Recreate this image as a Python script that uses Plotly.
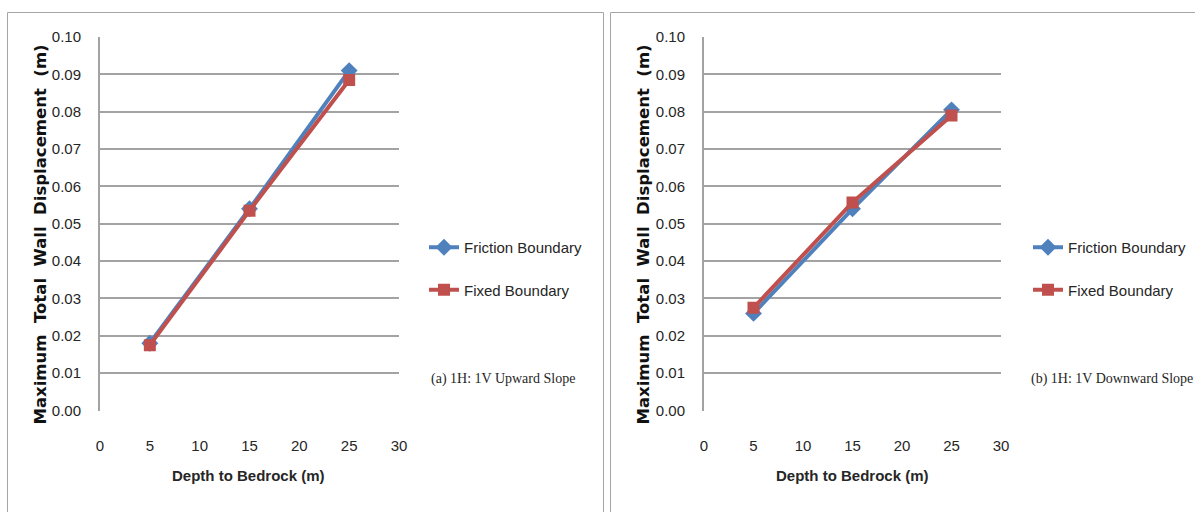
import plotly.graph_objects as go

W, H = 1195, 512

# Depth to bedrock (m)
depth = [5, 15, 25]

# (a) 1H:1V upward slope - maximum total wall displacement (m)
up_friction = [0.0180, 0.0540, 0.0910]
up_fixed = [0.0175, 0.0535, 0.0885]

# (b) 1H:1V downward slope - maximum total wall displacement (m)
down_friction = [0.0260, 0.0540, 0.0805]
down_fixed = [0.0275, 0.0557, 0.0790]

x_ticks = [0, 5, 10, 15, 20, 25, 30]
y_ticks = [0.00, 0.01, 0.02, 0.03, 0.04, 0.05, 0.06, 0.07, 0.08, 0.09, 0.10]

series_names = ["Friction Boundary", "Fixed Boundary"]
panel_labels = ["(a) 1H: 1V Upward Slope", "(b) 1H: 1V Downward Slope"]
y_title = "Maximum\u00a0 Total\u00a0 Wall\u00a0 Displacement\u00a0 (m)"
x_title = "Depth to Bedrock (m)"

BLUE = "#4F81BD"
RED = "#C0504D"
GRID = "#A3A3A3"
TXT = "#262626"
SANS = "Liberation Sans, Arial, sans-serif"
SERIF = "Liberation Serif, Times New Roman, serif"


def px(x):
    """Page x pixel -> paper fraction."""
    return x / W


def py(y):
    """Page y pixel (from top) -> paper fraction."""
    return (H - y) / H


fig = go.Figure()

panels = [
    ("x", "y", "legend", up_friction, up_fixed),
    ("x2", "y2", "legend2", down_friction, down_fixed),
]
for xa, ya, leg, fr, fx in panels:
    fig.add_trace(go.Scatter(
        x=depth, y=fr, name=series_names[0], xaxis=xa, yaxis=ya, legend=leg,
        legendgroup=leg + "a", mode="lines+markers",
        line=dict(color=BLUE, width=4),
        marker=dict(symbol="diamond", size=13, color=BLUE),
    ))
    fig.add_trace(go.Scatter(
        x=depth, y=fx, name=series_names[1], xaxis=xa, yaxis=ya, legend=leg,
        legendgroup=leg + "b", mode="lines+markers",
        line=dict(color=RED, width=4),
        marker=dict(symbol="square", size=12, color=RED),
    ))

axis_font = dict(family=SANS, size=15, color=TXT)
xcommon = dict(
    range=[0, 30], tickvals=x_ticks, ticktext=[str(v) for v in x_ticks],
    showgrid=False, zeroline=False, showline=False, ticks="",
    tickfont=axis_font, ticklabelstandoff=24, fixedrange=True,
    automargin=False,
)
ycommon = dict(
    range=[0, 0.1], tickvals=y_ticks, ticktext=[f"{v:.2f}" for v in y_ticks],
    showgrid=True, gridcolor=GRID, gridwidth=2, zeroline=False,
    showline=True, linecolor=GRID, linewidth=2, ticks="",
    tickfont=axis_font, ticklabelstandoff=14, fixedrange=True,
    automargin=False,
)

legend_style = dict(
    xanchor="left", yanchor="top", bgcolor="rgba(0,0,0,0)",
    font=dict(family=SANS, size=15, color=TXT),
    traceorder="grouped", tracegroupgap=20, itemwidth=30,
)

fig.update_layout(
    width=W, height=H,
    margin=dict(l=0, r=0, t=0, b=0, autoexpand=False),
    paper_bgcolor="white", plot_bgcolor="white",
    showlegend=True,
    xaxis=dict(domain=[px(100), px(399)], anchor="y", **xcommon),
    yaxis=dict(domain=[py(410.5), py(37)], anchor="x", **ycommon),
    xaxis2=dict(domain=[px(704), px(1001)], anchor="y2", **xcommon),
    yaxis2=dict(domain=[py(410.5), py(37)], anchor="x2", **ycommon),
    legend=dict(x=px(424), y=py(231), **legend_style),
    legend2=dict(x=px(1028), y=py(231), **legend_style),
)

# Chart-area borders around each panel
border = dict(color="#A6A6A6", width=1)
fig.add_shape(type="rect", xref="paper", yref="paper",
              x0=px(7.5), x1=px(603.5), y0=py(530), y1=py(12.5), line=border,
              layer="below")
fig.add_shape(type="rect", xref="paper", yref="paper",
              x0=px(610.5), x1=px(1215), y0=py(530), y1=py(12.5), line=border,
              layer="below")

# Axis titles and panel captions
for cx_title, cx_ytitle, cx_label, label in [
    (248, 39.5, 429, panel_labels[0]),
    (852, 642.5, 1029, panel_labels[1]),
]:
    fig.add_annotation(
        text=y_title, textangle=-90, xref="paper", yref="paper",
        x=px(cx_ytitle), y=py(235), xanchor="center", yanchor="middle",
        showarrow=False, font=dict(family="DejaVu Sans, sans-serif", size=16.5,
                                   color="#111111", weight="bold"),
    )
    fig.add_annotation(
        text=x_title, xref="paper", yref="paper",
        x=px(cx_title), y=py(475), xanchor="center", yanchor="middle",
        showarrow=False, font=dict(family=SANS, size=15, color=TXT,
                                   weight="bold"),
    )
    fig.add_annotation(
        text=label, xref="paper", yref="paper",
        x=px(cx_label), y=py(379), xanchor="left", yanchor="middle",
        showarrow=False, font=dict(family=SERIF, size=14, color=TXT),
    )

fig.write_html("out.html")
